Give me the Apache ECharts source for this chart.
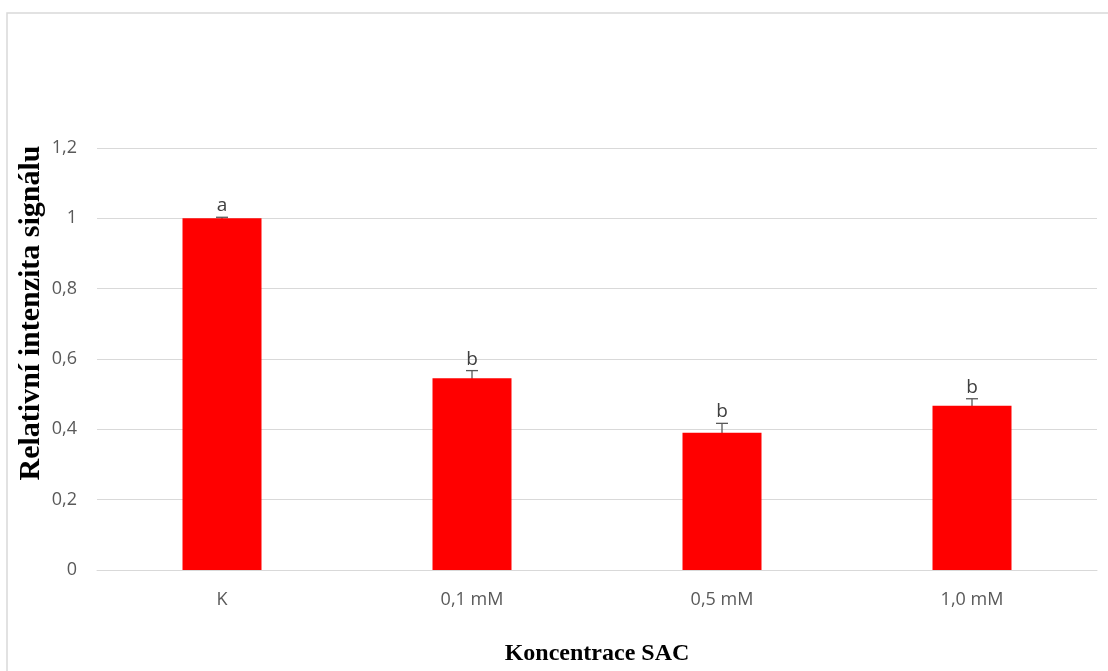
<!DOCTYPE html>
<html>
<head>
<meta charset="utf-8">
<script src="https://cdn.jsdelivr.net/npm/echarts@6/dist/echarts.min.js"></script>
<style>
  html, body { margin: 0; padding: 0; background: #fff; overflow: hidden; }
  #chart { width: 1108px; height: 671px; }
</style>
</head>
<body>
<div id="chart"></div>
<script>
// Relative signal intensity by SAC concentration
const categories = ['K', '0,1 mM', '0,5 mM', '1,0 mM'];
const values = [1.0, 0.545, 0.39, 0.467];
const errors = [0.003, 0.022, 0.027, 0.02];
const letters = ['a', 'b', 'b', 'b'];
const yTicks = [0, 0.2, 0.4, 0.6, 0.8, 1, 1.2];

const chart = echarts.init(document.getElementById('chart'));

const errData = values.map((v, i) => [i, v, errors[i], letters[i]]);

chart.setOption({
  animation: false,
  backgroundColor: '#ffffff',
  graphic: [
    {
      type: 'rect',
      shape: { x: 7, y: 13, width: 1120, height: 680 },
      style: { fill: 'none', stroke: '#d9d9d9', lineWidth: 1.5 },
      silent: true
    },
    {
      type: 'text',
      x: 31, y: 313,
      rotation: Math.PI / 2,
      style: {
        text: 'Relativní intenzita signálu',
        fill: '#000',
        font: 'bold 30px "Liberation Serif", serif',
        textAlign: 'center', textVerticalAlign: 'middle'
      },
      silent: true
    }
  ],
  grid: { left: 97, right: 11, top: 148, height: 438 },
  xAxis: {
    type: 'category',
    data: categories,
    axisLine: { lineStyle: { color: '#d9d9d9', width: 1 } },
    axisTick: { show: false },
    axisLabel: { color: '#595959', fontSize: 18, fontFamily: 'Open Sans, sans-serif', margin: 21 },
    name: 'Koncentrace SAC',
    nameLocation: 'middle',
    nameGap: 72,
    nameTextStyle: { color: '#000', fontSize: 24, fontWeight: 'bold', fontFamily: 'Liberation Serif, serif' }
  },
  yAxis: {
    type: 'value',
    min: yTicks[0],
    max: yTicks[yTicks.length - 1],
    interval: 0.2,
    axisLine: { show: false },
    axisTick: { show: false },
    splitLine: { lineStyle: { color: '#d9d9d9', width: 1 } },
    axisLabel: {
      color: '#595959', fontSize: 18, fontFamily: 'Open Sans, sans-serif', margin: 20,
      formatter: v => String(Math.round(v * 10) / 10).replace('.', ',')
    }
  },
  series: [
    {
      type: 'custom',
      z: 1,
      data: errData,
      renderItem: function (params, api) {
        const x = api.value(0);
        const v = api.value(1);
        const e = api.value(2);
        const top = api.coord([x, v + e]);
        const bot = api.coord([x, v - e]);
        const hw = 6;
        const style = { stroke: '#595959', lineWidth: 1.3 };
        return {
          type: 'group',
          children: [
            { type: 'line', shape: { x1: top[0], y1: top[1], x2: bot[0], y2: bot[1] }, style: style },
            { type: 'line', shape: { x1: top[0] - hw, y1: top[1], x2: top[0] + hw, y2: top[1] }, style: style },
            {
              type: 'text',
              style: {
                x: top[0], y: top[1] - 2,
                text: api.value(3),
                fill: '#404040',
                font: '19px "Open Sans", sans-serif',
                textAlign: 'center', textVerticalAlign: 'bottom'
              }
            }
          ]
        };
      }
    },
    {
      type: 'bar',
      z: 2,
      data: values,
      barWidth: 79,
      itemStyle: { color: '#ff0000' }
    }
  ]
});
</script>
</body>
</html>
